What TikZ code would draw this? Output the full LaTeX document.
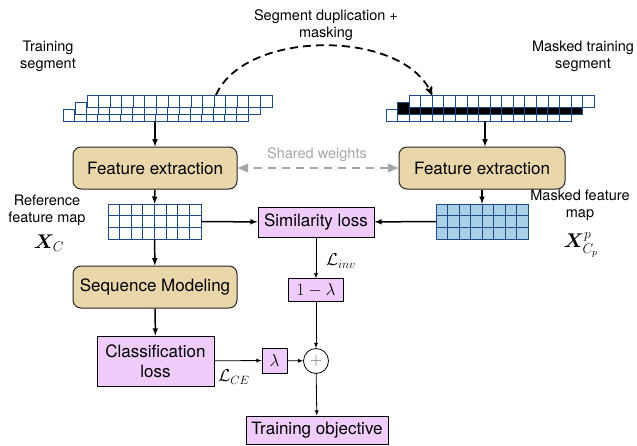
\documentclass[tikz,border=0pt]{standalone}
\usepackage{amsmath}
\usepackage{amssymb}
\usepackage{bm}
\usepackage{fontspec}
\setmainfont{TeX Gyre Heros}
\usepackage{tikz}
\usetikzlibrary{arrows,positioning,shapes}
\definecolor{boxtan}{RGB}{233,214,170}
\definecolor{losspink}{RGB}{240,204,250}
\definecolor{cellblue}{RGB}{28,72,140}
\definecolor{mapfill}{RGB}{168,208,230}

\begin{document}
\begin{tikzpicture}[x=1pt,y=-1pt,>=latex,
                    every node/.style={font=\fontsize{14.5}{17}\selectfont},
                    block/.style={draw=black!85,fill=boxtan,rounded corners=8pt,line width=1pt,
                                  minimum width=164pt,minimum height=42pt,font=\fontsize{17}{20}\selectfont},
                    loss/.style={draw,fill=losspink,line width=0.8pt,inner sep=2pt,
                                 font=\fontsize{17}{20}\selectfont},
                    cell/.style={draw=cellblue,line width=0.8pt},
                    main/.style={->,line width=1.5pt},
                    thin/.style={->,line width=0.8pt}]

  \useasboundingbox (0,0) rectangle (637,445);

  \node (trainlbl) at (48,56) [align=center] {Training\\segment};
  \node (duplbl) at (326,25) [align=center] {Segment duplication +\\masking};
  \node (masklbl) at (583,56) [align=center] {Masked training\\segment};

  % input segments, three stacked rows
  \foreach \r in {0,1,2}
    \foreach \c in {0,...,15}
      \draw[cell,fill=white] ({63+12*\r+11.56*\c},{109-7*\r}) rectangle +(11.56,12);
  \foreach \r/\f in {0/white,1/black,2/white}
    \foreach \c in {0,...,15}
      \draw[cell,fill=\f] ({386+11.6*\r+11.56*\c},{109-7*\r}) rectangle +(11.56,12);

  \coordinate (segL) at (155,121);
  \coordinate (segLtop) at (216,95);
  \coordinate (segR) at (485,121);
  \coordinate (segRtop) at (432,95);

  \node[block] (feL) at (155,168) {Feature extraction};
  \node[block,minimum width=166pt] (feR) at (482,168) {Feature extraction};
  \node[block] (seq) at (155,287) {Sequence Modeling};

  % feature maps
  \node[minimum width=93pt,minimum height=35pt,inner sep=0] (mapL) at (154.5,221.5) {};
  \node[minimum width=92pt,minimum height=35pt,inner sep=0] (mapR) at (482,221.5) {};
  \foreach \r in {0,1,2}
    \foreach \c in {0,...,7} {
      \draw[cell,fill=white] ({108+11.625*\c},{204+11.67*\r}) rectangle +(11.625,11.67);
      \draw[cell,fill=mapfill] ({436+11.5*\c},{204+11.67*\r}) rectangle +(11.5,11.67);
    }

  \node (reflbl) at (47,210) [align=center] {Reference\\feature map};
  \node (xc) at (49,243) [font=\fontsize{17}{20}\selectfont,scale=1.15] {$\bm{X}_C$};
  \node (mfmlbl) at (580,205) [align=center] {Masked feature\\map};
  \node (xcp) at (581,245) [font=\fontsize{17}{20}\selectfont,scale=1.15] {$\bm{X}^p_{C_p}$};

  \node[loss,minimum width=116pt,minimum height=30pt] (sim) at (316,222) {Similarity loss};
  \node[loss,minimum width=55pt,minimum height=23pt] (oneml) [below=41pt of sim] {$1-\lambda$};
  \node[loss,minimum width=117pt,minimum height=50pt,align=center] (cls) at (155.5,361) {Classification\\loss};
  \node[loss,minimum width=25pt,minimum height=25pt] (lam) at (274.5,360.5) {$\lambda$};
  \node[circle,draw,line width=0.8pt,minimum size=25pt,inner sep=0,text=black!60,
        font=\fontsize{17}{20}\selectfont] (plus) at (316,361) {$+$};
  \node[loss,minimum width=142pt,minimum height=28pt] (obj) at (317,430) {Training objective};

  \node (shared) at (317,155) [text=black!35] {Shared weights};
  \node (linv) at (341,261) [font=\fontsize{17}{20}\selectfont] {$\mathcal{L}_{inv}$};
  \node (lce) at (234,377) [font=\fontsize{17}{20}\selectfont] {$\mathcal{L}_{CE}$};

  \draw[->,>=stealth',line width=1.8pt,dash pattern=on 8pt off 5pt]
    (segLtop) .. controls (245,29) and (403,29) .. (segRtop);
  \draw[<->,>=triangle 45,black!35,line width=1.5pt,dash pattern=on 8pt off 6pt] (feL) -- (feR);

  \draw[main] (segL) -- (segL |- feL.north);
  \draw[main] (feL) -- (mapL);
  \draw[main] (mapL) -- (seq);
  \draw[main] (seq) -- (cls);
  \draw[main] (segR) -- (segR |- feR.north);
  \draw[main] (feR) -- (mapR);
  \draw[main] (mapL) -- (sim);
  \draw[main] (mapR) -- (sim);
  \draw[thin] (sim) -- (oneml);
  \draw[thin] (oneml) -- (plus);
  \draw[thin] (cls) -- (lam);
  \draw[thin] (lam) -- (plus);
  \draw[thin] (plus) -- (obj);
\end{tikzpicture}
\end{document}
